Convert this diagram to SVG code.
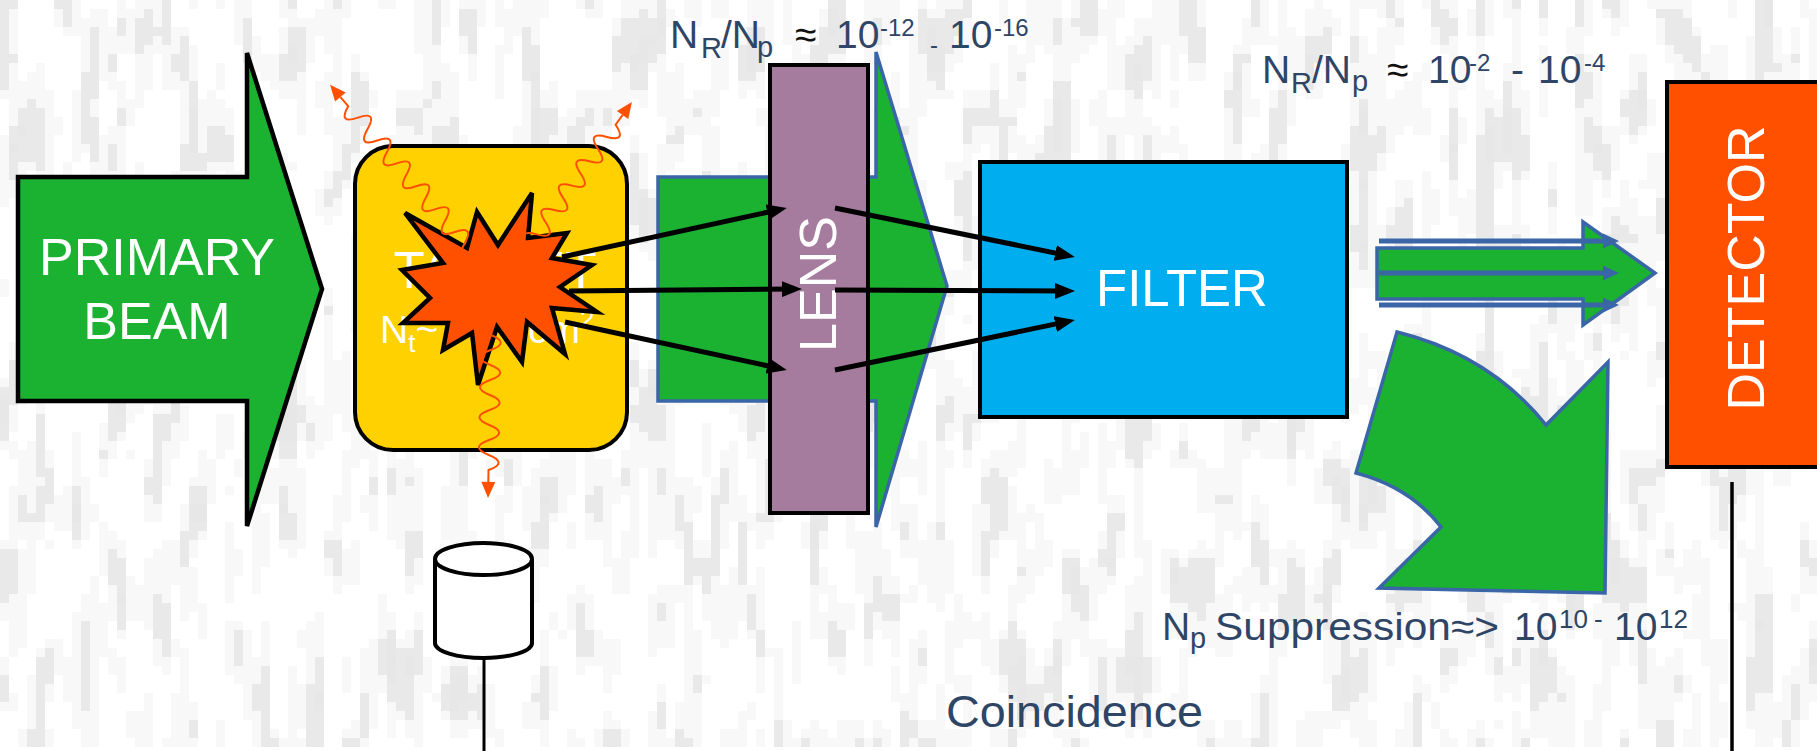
<svg xmlns="http://www.w3.org/2000/svg" width="1817" height="751" viewBox="0 0 1817 751">
  <style>
    .lbl { font-family: "Liberation Sans", Arial, sans-serif; fill: #2F4566; }
    .wt { font-family: "Liberation Sans", Arial, sans-serif; fill: #ffffff; }
    .green { fill: #1BB131; stroke: #3A66A8; stroke-width: 3.5; stroke-linejoin: miter; }
    .ray { stroke: #000; stroke-width: 5; fill: none; marker-end: url(#ah); }
    .photon path { fill: none; stroke: #FF5000; stroke-width: 2; }
    .photon polygon { fill: #FF5000; }
    .bline { stroke: #3A66A8; stroke-width: 5; fill: none; }
  </style>
  <defs>
    <!-- blocky light-grey grain for the paper -->
    <filter id="grain" filterUnits="userSpaceOnUse" x="0" y="0" width="1817" height="751" color-interpolation-filters="sRGB">
      <feTurbulence type="fractalNoise" baseFrequency="0.04 0.011" numOctaves="2" seed="11" result="t"/>
      <feColorMatrix in="t" type="matrix" values="0 0 0 0 0  0 0 0 0 0  0 0 0 0 0  1 0 0 0 0" result="m"/>
      <feComponentTransfer in="m" result="d">
        <feFuncA type="discrete" tableValues="0 0 0 0 0.03 0.09 0.095 0.1"/>
      </feComponentTransfer>
      <feFlood x="4" y="4" width="1" height="1" flood-color="#000" flood-opacity="1" result="dot"/>
      <feOffset in="dot" dx="0" dy="0" x="0" y="0" width="9" height="9" result="cell"/>
      <feTile in="cell" result="grid"/>
      <feComposite in="d" in2="grid" operator="in" result="s"/>
      <feMorphology in="s" operator="dilate" radius="4"/>
    </filter>
    <marker id="ah" markerUnits="userSpaceOnUse" markerWidth="20" markerHeight="16" refX="13" refY="8" orient="auto">
      <path d="M0,0 L20,8 L0,16 Z" fill="#000"/>
    </marker>
  </defs>

  <!-- paper -->
  <rect width="1817" height="751" fill="#ffffff"/>
  <rect width="1817" height="751" filter="url(#grain)"/>

  <!-- incoming beam -->
  <g id="primary-beam">
    <polygon points="18,177 247,177 247,53 322,289 247,526 247,401 18,401" fill="#1BB131" stroke="#000" stroke-width="4.5"/>
    <text class="wt" x="157" y="275" font-size="52" text-anchor="middle">PRIMARY</text>
    <text class="wt" x="157" y="339" font-size="52" text-anchor="middle">BEAM</text>
  </g>

  <!-- beam after the target, passing the lens -->
  <g id="lens-beam">
    <polygon class="green" points="658,177 876,177 876,52 947,286 876,527 876,401 658,401"/>
  </g>

  <!-- target block -->
  <g id="target">
    <rect x="355" y="146" width="272" height="304" rx="38" ry="38" fill="#FFD100" stroke="#000" stroke-width="4"/>
    <text class="wt" x="495" y="288" font-size="51" text-anchor="middle">TARGET</text>
    <text class="wt" x="380" y="343" font-size="39">N<tspan font-size="26" dy="9">t</tspan><tspan dy="-9">~</tspan></text>
    <text class="wt" x="580" y="343" font-size="39" text-anchor="end">cm</text>
    <text class="wt" x="580" y="328" font-size="26">2</text>
  </g>

  <!-- reaction burst -->
  <g id="burst">
    <polygon points="405,213 467,248 477,212 498,245 532,193 528,238 567,233 552,258 592,265 560,287 597,312 552,308 565,354 527,322 522,362 497,327 478,385 472,333 443,350 448,323 403,323 430,298 402,270 443,263" fill="#FF5000" stroke="#000" stroke-width="4.5" stroke-linejoin="miter"/>
  </g>

  <!-- emitted gammas -->
  <g id="photons" class="photon">
    <g transform="translate(493.7,277.8) rotate(-130.3)">
      <path d="M0,0 q7.5,-20 15,0 t15,0 t15,0 t15,0 t15,0 t15,0 t15,0 t15,0 t15,0 t15,0 t15,0 t15,0 t15,0 t15,0 t15,0 l12,0"/>
      <polygon points="237,-7 253,0 237,7"/>
    </g>
    <g transform="translate(501.8,283.1) rotate(-54.3)">
      <path d="M0,0 q7.5,20 15,0 t15,0 t15,0 t15,0 t15,0 t15,0 t15,0 t15,0 t15,0 t15,0 t15,0 t15,0 t15,0 l12,0"/>
      <polygon points="207,-7 223,0 207,7"/>
    </g>
    <g transform="translate(491.4,305) rotate(91)">
      <path d="M0,0 q7.5,-20 15,0 t15,0 t15,0 t15,0 t15,0 t15,0 t15,0 t15,0 t15,0 t15,0 t15,0 l12,0"/>
      <polygon points="177,-7 193,0 177,7"/>
    </g>
  </g>

  <!-- focusing element -->
  <g id="lens">
    <rect x="770" y="65" width="98" height="448" fill="#A57C9E" stroke="#000" stroke-width="4"/>
    <text class="wt" font-size="52" text-anchor="middle" transform="translate(836,284) rotate(-90)">LENS</text>
  </g>

  <!-- separator -->
  <g id="filter">
    <rect x="980" y="162" width="367" height="255" fill="#00AEEF" stroke="#000" stroke-width="4"/>
    <text class="wt" x="1182" y="306" font-size="51" text-anchor="middle">FILTER</text>
  </g>

  <!-- detector -->
  <g id="detector">
    <rect x="1667" y="82" width="170" height="385" fill="#FF5000" stroke="#000" stroke-width="4"/>
    <text class="wt" font-size="52" text-anchor="middle" transform="translate(1764,268) rotate(-90)">DETECTOR</text>
  </g>

  <!-- transmitted recoils -->
  <g id="out-beam">
    <polygon class="green" points="1377,248 1583,248 1583,222 1655,273 1583,325 1583,299 1377,299"/>
    <line class="bline" x1="1379" y1="241" x2="1604" y2="241"/>
    <polygon points="1603,233.5 1619,241 1603,248.5" fill="#3A66A8"/>
    <line class="bline" x1="1379" y1="273" x2="1604" y2="273"/>
    <polygon points="1603,265.5 1619,273 1603,280.5" fill="#3A66A8"/>
    <line class="bline" x1="1379" y1="305" x2="1604" y2="305"/>
    <polygon points="1603,297.5 1619,305 1603,312.5" fill="#3A66A8"/>
  </g>

  <!-- rejected primary beam -->
  <g id="suppressed-beam">
    <path class="green" d="M1397,332 Q1490,355 1546,425 L1608,362 L1605,593 L1379,588 L1441,527 Q1410,487 1356,473 Z"/>
  </g>

  <!-- gamma detector -->
  <g id="pmt">
    <path d="M435,559 L435,643 A48.5,15 0 0 0 532,643 L532,559" fill="#fff" stroke="#000" stroke-width="4"/>
    <ellipse cx="483.5" cy="559" rx="48.5" ry="16" fill="#fff" stroke="#000" stroke-width="4"/>
  </g>

  <!-- trajectories and signal lines -->
  <g id="connectors">
    <line class="ray" x1="562" y1="257" x2="780" y2="209.5"/>
    <line class="ray" x1="569" y1="291" x2="795" y2="289"/>
    <line class="ray" x1="565" y1="322" x2="780" y2="368.5"/>
    <line class="ray" x1="835" y1="208" x2="1068" y2="255.6"/>
    <line class="ray" x1="835" y1="290" x2="1068" y2="291"/>
    <line class="ray" x1="835" y1="370" x2="1068" y2="321.4"/>
    <line x1="484" y1="658" x2="484" y2="751" stroke="#000" stroke-width="3"/>
    <line x1="1732" y1="482" x2="1732" y2="751" stroke="#000" stroke-width="3.5"/>
  </g>

  <!-- annotations -->
  <g id="labels">
    <text class="lbl" font-size="39">
      <tspan x="670" y="48">N</tspan><tspan x="701" y="58" font-size="29">R</tspan><tspan x="721" y="48">/N</tspan><tspan x="757" y="57" font-size="29">p</tspan>
      <tspan x="795" y="48" fill="#111">≈</tspan>
      <tspan x="836" y="48">10</tspan><tspan x="880" y="36" font-size="24">-12</tspan><tspan x="930" y="53" font-size="24">-</tspan>
      <tspan x="949" y="48">10</tspan><tspan x="994" y="36" font-size="24">-16</tspan>
    </text>
    <text class="lbl" font-size="39">
      <tspan x="1262" y="83">N</tspan><tspan x="1291" y="93" font-size="29">R</tspan><tspan x="1312" y="83">/N</tspan><tspan x="1352" y="91" font-size="29">p</tspan>
      <tspan x="1387" y="83" fill="#111">≈</tspan>
      <tspan x="1428" y="83">10</tspan><tspan x="1469" y="71" font-size="24">-2</tspan>
      <tspan x="1511" y="83">-</tspan>
      <tspan x="1538" y="83">10</tspan><tspan x="1584" y="71" font-size="24">-4</tspan>
    </text>
    <text class="lbl" font-size="39">
      <tspan x="1162" y="640">N</tspan><tspan x="1190" y="648" font-size="29">p</tspan>
      <tspan x="1215" y="640" textLength="284" lengthAdjust="spacingAndGlyphs">Suppression≈&gt;</tspan>
      <tspan x="1514" y="640">10</tspan><tspan x="1559" y="628" font-size="26">10</tspan><tspan x="1594" y="628" font-size="26">-</tspan>
      <tspan x="1614" y="640">10</tspan><tspan x="1659" y="628" font-size="26">12</tspan>
    </text>
    <text class="lbl" x="946" y="727" font-size="44" textLength="257" lengthAdjust="spacingAndGlyphs">Coincidence</text>
  </g>
</svg>
